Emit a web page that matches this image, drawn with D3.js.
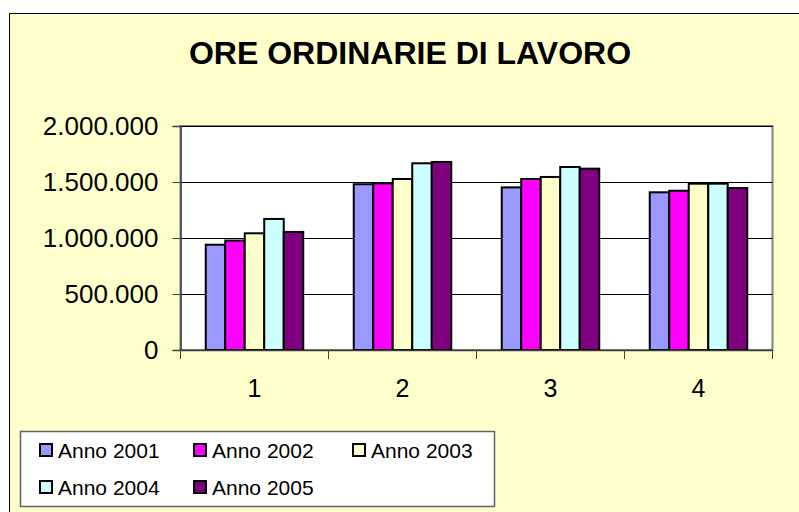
<!DOCTYPE html>
<html>
<head>
<meta charset="utf-8">
<script src="https://cdn.jsdelivr.net/npm/d3@7"></script>
<style>
  body { margin: 0; background: #fff; }
  text { font-family: "Liberation Sans", Arial, sans-serif; }
</style>
</head>
<body>
<div id="chart"></div>
<script>
// data
var categories = ["1", "2", "3", "4"]
var series = ["Anno 2001", "Anno 2002", "Anno 2003", "Anno 2004", "Anno 2005"]
var anno2001 = [940000, 1480000, 1452000, 1408000]
var anno2002 = [977000, 1488000, 1527000, 1422000]
var anno2003 = [1042000, 1527000, 1545000, 1485000]
var anno2004 = [1170000, 1667000, 1634000, 1485000]
var anno2005 = [1054000, 1679000, 1619000, 1446000]
var yTicks = [0, 500000, 1000000, 1500000, 2000000]
var colors = ["#9999FF", "#FF00FF", "#FFFFCC", "#CCFFFF", "#800080"]

var values = [anno2001, anno2002, anno2003, anno2004, anno2005]
var data = categories.map(function(c, i) {
    return {cat: c, vals: series.map(function(s, j) { return {key: s, value: values[j][i]} })}
})

var W = 799, H = 512
var svg = d3.select("#chart").append("svg")
    .attr("width", W).attr("height", H)

// chart frame (cut off on right and bottom like the source)
svg.append("rect")
    .attr("x", 9.5).attr("y", 13.5)
    .attr("width", W + 10).attr("height", H + 10)
    .attr("fill", "#FFFFCC").attr("stroke", "#000").attr("stroke-width", 1)

svg.append("text")
    .attr("x", 410).attr("y", 64)
    .attr("text-anchor", "middle")
    .style("font-size", "32px").style("font-weight", "bold")
    .text("ORE ORDINARIE DI LAVORO")

var plot = {left: 180.5, right: 772.5, top: 126, bottom: 350}

var x = d3.scaleBand().domain(categories).range([plot.left, plot.right]).padding(0)
var off = (x.bandwidth() - 97.5) / 2
var xSub = d3.scaleBand().domain(series).range([off, x.bandwidth() - off]).padding(0)
var y = d3.scaleLinear().domain([0, 2000000]).range([plot.bottom, plot.top])
var color = d3.scaleOrdinal().domain(series).range(colors)

var fmt = d3.formatLocale({decimal: ",", thousands: ".", grouping: [3], currency: ["", ""]}).format(",d")

// plot area
svg.append("rect")
    .attr("x", plot.left).attr("y", plot.top)
    .attr("width", plot.right - plot.left).attr("height", plot.bottom - plot.top)
    .attr("fill", "#fff").attr("stroke", "#808080").attr("stroke-width", 2)

// gridlines
svg.append("g").selectAll("line")
    .data(yTicks.slice(1))
    .enter().append("line")
    .attr("x1", plot.left).attr("x2", plot.right)
    .attr("y1", function(d) { return Math.round(y(d)) + 0.5 })
    .attr("y2", function(d) { return Math.round(y(d)) + 0.5 })
    .attr("stroke", "#000").attr("stroke-width", 1)

// bars
svg.append("g").selectAll("g")
    .data(data)
    .enter().append("g")
    .attr("transform", function(d) { return "translate(" + x(d.cat) + ",0)" })
    .selectAll("rect")
    .data(function(d) { return d.vals })
    .enter().append("rect")
    .attr("x", function(d) { return xSub(d.key) })
    .attr("y", function(d) { return y(d.value) })
    .attr("width", xSub.bandwidth())
    .attr("height", function(d) { return plot.bottom - y(d.value) })
    .attr("fill", function(d) { return color(d.key) })
    .attr("stroke", "#000").attr("stroke-width", 2)

// y axis
var yAxis = svg.append("g")
    .attr("transform", "translate(" + plot.left + ",0)")
    .call(d3.axisLeft(y).tickValues(yTicks).tickFormat(fmt).tickSize(8).tickPadding(14))
yAxis.select(".domain").attr("stroke", "#404040").attr("stroke-width", 1.5)
yAxis.selectAll(".tick line").attr("stroke", "#404040")
yAxis.selectAll("text").style("font-size", "26px").attr("fill", "#000")
    .style("font-family", "'Liberation Sans', Arial, sans-serif")

// x axis
var xAxis = svg.append("g")
    .attr("transform", "translate(0," + plot.bottom + ")")
    .call(d3.axisBottom(x).tickSize(0).tickPadding(29))
xAxis.select(".domain").attr("stroke", "#404040").attr("stroke-width", 1.5)
xAxis.selectAll("text").style("font-size", "25px").attr("fill", "#000")
    .style("font-family", "'Liberation Sans', Arial, sans-serif")
// boundary ticks between categories
xAxis.append("g").selectAll("line")
    .data(categories)
    .enter().append("line")
    .attr("x1", function(d) { return x(d) + x.bandwidth() })
    .attr("x2", function(d) { return x(d) + x.bandwidth() })
    .attr("y1", 0).attr("y2", 9)
    .attr("stroke", "#404040")
xAxis.append("line")
    .attr("x1", plot.left).attr("x2", plot.left)
    .attr("y1", 0).attr("y2", 9).attr("stroke", "#404040")

// legend
var legend = svg.append("g")
legend.append("rect")
    .attr("x", 20.5).attr("y", 431.5).attr("width", 474).attr("height", 75)
    .attr("fill", "#fff").attr("stroke", "#606060").attr("stroke-width", 1.5)

var cols = [39, 193, 352], rows = [450, 487]
series.forEach(function(s, i) {
    var lx = cols[i % 3], ly = rows[Math.floor(i / 3)]
    legend.append("rect")
        .attr("x", lx + 1).attr("y", ly - 6).attr("width", 12).attr("height", 12)
        .attr("fill", color(s)).attr("stroke", "#000").attr("stroke-width", 2)
    legend.append("text")
        .attr("x", lx + 19).attr("y", ly)
        .attr("dominant-baseline", "central")
        .style("font-size", "21px")
        .text(s)
})
</script>
</body>
</html>
